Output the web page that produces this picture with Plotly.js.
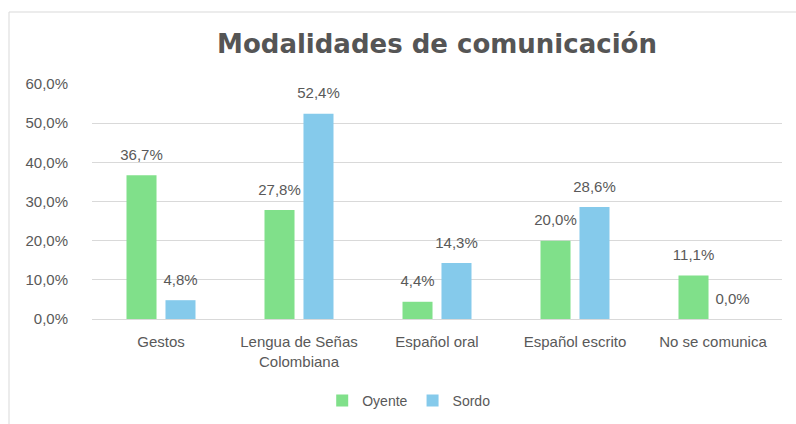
<!DOCTYPE html>
<html>
<head>
<meta charset="utf-8">
<script src="https://cdn.plot.ly/plotly-3.0.1.min.js"></script>
<style>html,body{margin:0;padding:0;background:#fff}#chart{width:796px;height:424px}</style>
</head>
<body>
<div id="chart"></div>
<script>
const categories = ["Gestos", "Lengua de Señas<br>Colombiana", "Español oral", "Español escrito", "No se comunica"];
const oyente = [36.7, 27.8, 4.4, 20.0, 11.1];
const sordo = [4.8, 52.4, 14.3, 28.6, 0.0];
const seriesNames = ["Oyente", "Sordo"];
const titleText = "Modalidades de comunicación";

const grey = "#595959";
const font = "Liberation Sans, Arial, sans-serif";

function barTrace(name, values, color) {
  return {
    type: "bar", name: name, x: categories, y: values,
    marker: {color: color},
    texttemplate: "<span style='font-size:15px'>%{y:.1f}%</span><br> ", textposition: "outside",
    constraintext: "none",
    textfont: {family: font, size: 8, color: grey},
    cliponaxis: false, hoverinfo: "none"
  };
}

const data = [
  barTrace(seriesNames[0], oyente, "#80E08A"),
  barTrace(seriesNames[1], sordo, "#85CAEB")
];

const layout = {
  width: 796, height: 424,
  margin: {l: 92, r: 14, t: 84, b: 105},
  paper_bgcolor: "#fff", plot_bgcolor: "#fff",
  separators: ",.",
  font: {family: font, size: 15, color: grey},
  title: {text: "<b>" + titleText + "</b>", font: {family: "DejaVu Sans, sans-serif", size: 26, color: "#555555"},
          x: 0.5, xanchor: "center", xref: "paper", y: 1 - 44/424, yref: "container", yanchor: "middle"},
  barmode: "group", bargap: 0.435, bargroupgap: 0.23,
  xaxis: {showline: false, ticks: "", ticklabelstandoff: 12, tickfont: {family: font, size: 15, color: grey}, fixedrange: true},
  yaxis: {range: [0, 60], dtick: 10, tickformat: ".1f", ticksuffix: "%", showgrid: true, gridcolor: "#d9d9d9",
          gridwidth: 1, zeroline: true, zerolinecolor: "#d9d9d9", zerolinewidth: 1, showline: false, ticks: "",
          ticklabelstandoff: 23, tickfont: {family: font, size: 15, color: grey}, fixedrange: true},
  legend: {orientation: "h", x: 0.459, xanchor: "center", xref: "paper", y: 1 - 401/424, yref: "container", yanchor: "middle",
           font: {family: font, size: 14, color: grey}, itemwidth: 30, tracegroupgap: 0},
  shapes: [
    {type: "line", xref: "paper", yref: "paper", x0: -83/690, x1: 704/690, y0: 1 + 72/235, y1: 1 + 72/235,
     line: {color: "#d9d9d9", width: 1}},
    {type: "line", xref: "paper", yref: "paper", x0: -83/690, x1: -83/690, y0: 1 + 72/235, y1: -110/235,
     line: {color: "#d9d9d9", width: 1}}
  ]
};

Plotly.newPlot("chart", data, layout, {displayModeBar: false, staticPlot: true});
</script>
</body>
</html>
